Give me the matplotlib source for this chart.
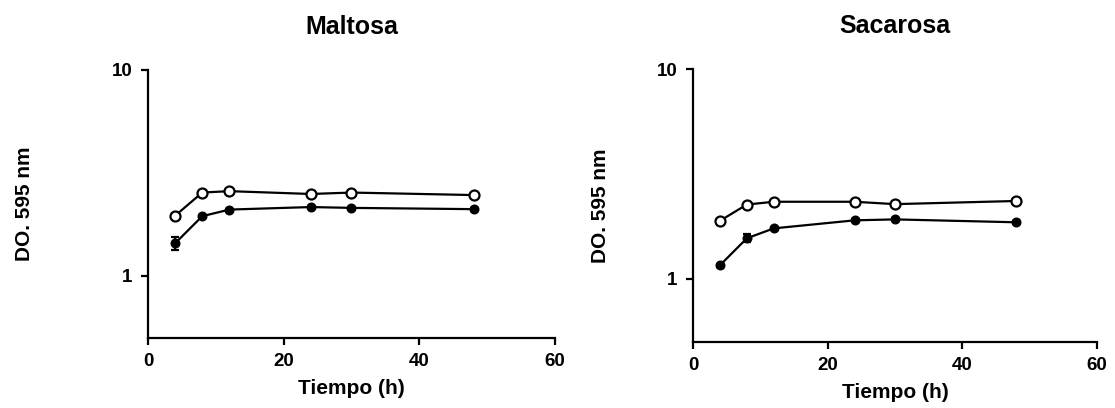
import matplotlib
matplotlib.use("Agg")
import matplotlib.pyplot as plt
from matplotlib.ticker import FixedLocator, NullLocator, FixedFormatter

plt.rcParams['font.family'] = ['Liberation Sans', 'DejaVu Sans']
plt.rcParams['font.weight'] = 'bold'

tiempo = [4, 8, 12, 24, 30, 48]

# Maltosa
malt_abierto = [1.96, 2.54, 2.58, 2.50, 2.54, 2.47]
malt_lleno = [1.44, 1.95, 2.10, 2.16, 2.14, 2.11]
malt_lleno_err = [0.10, 0.03, 0.02, 0.02, 0.02, 0.02]

# Sacarosa
sac_abierto = [1.89, 2.26, 2.33, 2.33, 2.27, 2.35]
sac_lleno = [1.16, 1.56, 1.74, 1.90, 1.92, 1.86]
sac_lleno_err = [0.02, 0.07, 0.02, 0.02, 0.02, 0.02]

fig = plt.figure(figsize=(11.15, 4.08), dpi=100)
ax1 = fig.add_axes([0.1327, 0.1716, 0.365, 0.657])
ax2 = fig.add_axes([0.6215, 0.1618, 0.3623, 0.669])


def panel(ax, titulo, abierto, lleno, err, ylab_x):
    ax.errorbar(tiempo, lleno, yerr=err, color='black', marker='o', ms=6.2,
                lw=1.6, capsize=3, elinewidth=1.6, capthick=1.6, zorder=3)
    ax.plot(tiempo, abierto, color='black', marker='o', ms=7.2, lw=1.6,
            mfc='white', mec='black', mew=1.6, zorder=4)
    ax.set_yscale('log')
    ax.set_ylim(0.5, 10)
    ax.set_xlim(0, 60)
    ax.yaxis.set_major_locator(FixedLocator([1, 10]))
    ax.yaxis.set_major_formatter(FixedFormatter(['1', '10']))
    ax.yaxis.set_minor_locator(NullLocator())
    ax.set_xticks([0, 20, 40, 60])
    for s in ['top', 'right']:
        ax.spines[s].set_visible(False)
    for s in ['left', 'bottom']:
        ax.spines[s].set_linewidth(1.6)
    ax.tick_params(width=1.6, length=5, labelsize=13.5, pad=6)
    for lab in ax.get_xticklabels() + ax.get_yticklabels():
        lab.set_fontweight('bold')
    ax.set_title(titulo, fontsize=18, fontweight='bold', pad=26)
    ax.set_xlabel('Tiempo (h)', fontsize=15, fontweight='bold', labelpad=6)
    ax.set_ylabel('DO. 595 nm', fontsize=15, fontweight='bold')
    ax.yaxis.set_label_coords(ylab_x, 0.5)


panel(ax1, 'Maltosa', malt_abierto, malt_lleno, malt_lleno_err, -0.28)
panel(ax2, 'Sacarosa', sac_abierto, sac_lleno, sac_lleno_err, -0.205)

fig.savefig('out.png', dpi=100)
